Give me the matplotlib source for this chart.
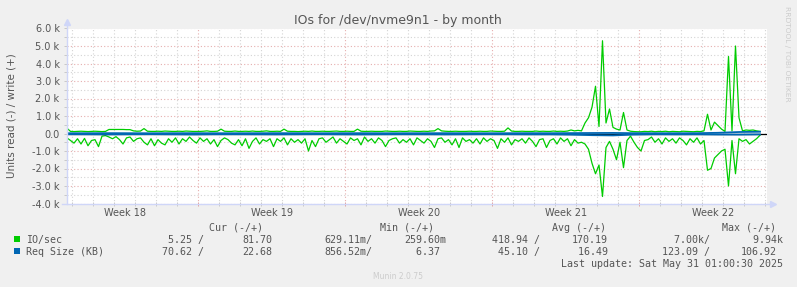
import numpy as np
import matplotlib.pyplot as plt
from matplotlib.patches import Rectangle
from matplotlib.lines import Line2D

W, H = 797, 287

title = "IOs for /dev/nvme9n1 - by month"
ylabel = "Units read (-) / write (+)"
week_labels = ["Week 18", "Week 19", "Week 20", "Week 21", "Week 22"]
step_days = 1 / 6  # 4-hour samples for IO/sec

# IO/sec, read drawn below zero, write above
io_read = [
    -250, -400, -550, -300, -600, -280, -700, -400, -350, -750,
    -150, -120, -200, -300, -180, -350, -600, -250, -200, -450,
    -300, -250, -500, -650, -300, -700, -350, -550, -650, -300,
    -500, -250, -600, -300, -450, -200, -400, -550, -250, -450,
    -300, -600, -350, -750, -400, -250, -350, -550, -650, -350,
    -700, -300, -850, -450, -250, -600, -350, -450, -300, -750,
    -300, -450, -250, -650, -300, -500, -350, -550, -300, -1000,
    -400, -750, -300, -250, -500, -350, -200, -550, -300, -450,
    -600, -250, -400, -300, -650, -200, -450, -300, -550, -250,
    -400, -750, -400, -300, -250, -550, -350, -500, -300, -650,
    -250, -400, -550, -300, -450, -800, -300, -250, -500, -350,
    -650, -300, -800, -250, -450, -350, -550, -300, -600, -250,
    -450, -300, -400, -850, -300, -500, -250, -650, -350, -450,
    -300, -550, -250, -450, -750, -350, -300, -800, -400, -300,
    -600, -250, -450, -300, -700, -350, -550, -500, -600, -900,
    -1700, -2300, -1800, -3600, -800, -450, -900, -1500, -500, -1950,
    -400, -150, -500, -800, -1000, -400, -350, -200, -500, -300,
    -600, -250, -450, -300, -550, -250, -400, -650, -300, -500,
    -250, -600, -400, -2100, -2000, -1400, -1200, -1000, -900, -3000,
    -400, -2300, -300, -450, -350, -600, -450, -300, -100,
]
io_write = [
    300, 120, 110, 120, 130, 120, 110, 120, 130, 120,
    110, 120, 230, 230, 230, 230, 230, 220, 220, 150,
    130, 140, 280, 130, 120, 120, 130, 120, 140, 130,
    120, 120, 130, 120, 140, 130, 120, 120, 120, 130,
    150, 120, 120, 130, 250, 130, 120, 120, 140, 120,
    120, 130, 120, 140, 120, 120, 130, 150, 120, 120,
    130, 120, 250, 130, 120, 120, 110, 120, 130, 120,
    140, 120, 120, 130, 120, 120, 130, 140, 120, 120,
    130, 120, 120, 250, 130, 120, 120, 130, 120, 120,
    120, 140, 130, 120, 120, 130, 120, 120, 140, 130,
    120, 120, 130, 120, 140, 150, 280, 150, 130, 120,
    120, 130, 120, 120, 120, 130, 120, 120, 130, 120,
    120, 140, 130, 120, 120, 130, 320, 140, 120, 120,
    130, 120, 120, 120, 140, 120, 130, 120, 120, 140,
    120, 130, 120, 140, 200, 150, 180, 150, 600, 900,
    1500, 2700, 400, 5300, 600, 1400, 350, 250, 200, 1200,
    200, 130, 110, 100, 100, 120, 110, 130, 100, 120,
    110, 130, 100, 120, 110, 100, 130, 120, 110, 100,
    120, 110, 150, 1100, 200, 650, 450, 250, 120, 4400,
    150, 5000, 900, 150, 200, 180, 200, 150, 120,
]

# Req Size (KB), daily averages
req_read = [-40, -45, -52, -44, -38, -47, -55, -43, -41, -46, -50, -44,
            -39, -48, -53, -45, -42, -44, -51, -46, -40, -43, -49, -47,
            -65, -95, -110, -60, -44, -50, -46, -58, -62, -50]
req_write = [15, 16, 19, 16, 14, 17, 18, 15, 15, 16, 19, 16,
             14, 17, 18, 15, 15, 16, 18, 16, 14, 16, 19, 17,
             22, 28, 32, 18, 16, 15, 18, 40, 85, 100]

legend_headers = ["Cur (-/+)", "Min (-/+)", "Avg (-/+)", "Max (-/+)"]
legend_names = ["IO/sec", "Req Size (KB)"]
legend_colors = ["#00CC00", "#0066B3"]
legend_values = [
    [" 5.25 /", "81.70", "629.11m/", "259.60m", "418.94 /", "170.19", "  7.00k/", "  9.94k"],
    ["70.62 /", "22.68", "856.52m/", "  6.37", " 45.10 /", " 16.49", "123.09 /", "106.92"],
]
last_update = "Last update: Sat May 31 01:00:30 2025"

fig = plt.figure(figsize=(W / 100, H / 100), dpi=100)
fig.patch.set_facecolor("#F0F0F0")

ax = fig.add_axes([67 / W, 1 - 203.5 / H, 700 / W, 175 / H])
ax.set_facecolor("white")
ax.set_xlim(0, 700 / 21)
ax.set_ylim(-4000, 6000)

# grid: days (gray) and weeks (red)
week_lines = 6.25 + 7 * np.arange(4)
day_lines = 0.25 + np.arange(34)
ax.set_xticks(week_lines)
ax.set_xticks(day_lines, minor=True)
ax.set_yticks(np.arange(-4000, 6001, 1000))
ax.set_yticks(np.arange(-3500, 6000, 1000), minor=True)
ax.grid(which="minor", color="#D4D4D4", linestyle=(0, (1, 2)), linewidth=0.8)
ax.grid(which="major", color="#E6AEAE", linestyle=(0, (1, 2)), linewidth=0.8)
ax.set_axisbelow(True)

ytick_labels = ["%.1f k" % (v / 1000) if v != 0 else "0.0" for v in np.arange(-4000, 6001, 1000)]
ax.set_yticklabels(ytick_labels)
ax.set_xticklabels([])
ax.tick_params(axis="y", which="both", length=2.5, width=0.7, color="#C8C8C8",
               labelsize=7, labelcolor="#555555", pad=2.9)
ax.tick_params(axis="x", which="major", length=2.5, width=0.7, color="#E0A0A0", direction="inout")
ax.tick_params(axis="x", which="minor", length=2.5, width=0.7, color="#C8C8C8", direction="inout")
for s in ax.spines.values():
    s.set_visible(False)

# data
t_io = np.arange(len(io_read)) * step_days
t_req = np.arange(len(req_read)) * 1.0
ax.plot(t_io, io_read, color="#00CC00", lw=0.9)
ax.plot(t_io, io_write, color="#00CC00", lw=0.9)
ax.axhline(0, color="black", lw=0.9)
ax.plot(t_req, req_read, color="#0066B3", lw=1.3)
ax.plot(t_req, req_write, color="#0066B3", lw=1.3)

# axes with arrows
axis_col = "#CFD6F8"
ax.add_line(Line2D([0, 0], [0, 1.03], transform=ax.transAxes, color=axis_col, lw=1, clip_on=False))
ax.add_line(Line2D([-0.007, 1.007], [0, 0], transform=ax.transAxes, color=axis_col, lw=1, clip_on=False))
ax.plot([0], [1.035], marker="^", ms=4, color=axis_col, transform=ax.transAxes, clip_on=False)
ax.plot([1.008], [0], marker=">", ms=4, color=axis_col, transform=ax.transAxes, clip_on=False)

# week labels
for i, lab in enumerate(week_labels):
    ax.text(week_lines[0] - 3.5 + 7 * i, -0.074, lab, transform=ax.get_xaxis_transform(),
            ha="center", va="baseline", fontsize=7, color="#555555")


def ftext(x, y, s, **kw):
    fig.text(x / W, 1 - y / H, s, **kw)


ftext(398, 24, title, ha="center", va="baseline", fontsize=9, color="#555555")
ftext(11.5, 115.5, ylabel, ha="center", va="center", rotation=90, fontsize=7.5, color="#555555")
ftext(787.5, 53.5, "RRDTOOL / TOBI OETIKER", ha="center", va="center", rotation=270,
      fontsize=5.4, color="#CCCCCC")
ftext(398, 279, "Munin 2.0.75", ha="center", va="baseline", fontsize=5.5, color="#CCCCCC")

mono = dict(family="DejaVu Sans Mono", fontsize=7.2, color="#555555", va="baseline")
for x, h in zip([209.3, 380, 551.7, 722.3], legend_headers):
    ftext(x, 231, h, **mono)

value_x = [162, 242, 324, 404.5, 492.5, 572, 661.5, 741]
row_y = [243, 255.2]
for name, col, vals, y in zip(legend_names, legend_colors, legend_values, row_y):
    fig.add_artist(Rectangle((14 / W, 1 - (y - 1.5) / H), 5.5 / W, 5.5 / H,
                             transform=fig.transFigure, facecolor=col, edgecolor="none"))
    ftext(26, y, name, **mono)
    for x, v in zip(value_x, vals):
        ftext(x, y, v, **mono)
ftext(561, 267, last_update, **mono)

fig.savefig("out.png", dpi=100, facecolor=fig.get_facecolor())
